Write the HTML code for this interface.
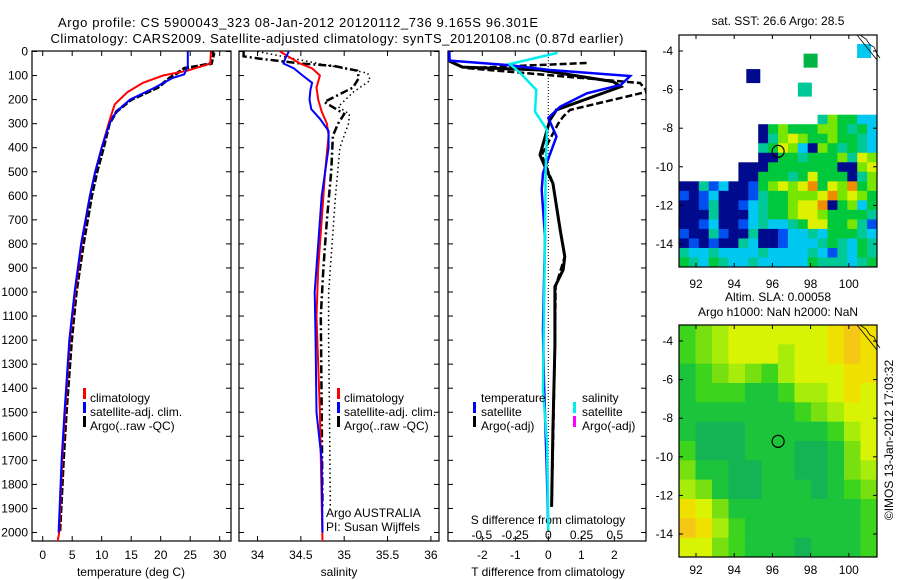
<!DOCTYPE html>
<html><head><meta charset="utf-8"><style>
body{margin:0;background:#fff}
svg{display:block;font-family:"Liberation Sans",sans-serif}
text{font-size:12px;fill:#000}
</style></head><body>
<svg id="s" width="900" height="580" viewBox="0 0 900 580">
<text x="298" y="27" text-anchor="middle" font-size="13" style="font-size:13px" textLength="480">Argo profile: CS 5900043_323 08-Jan-2012 20120112_736 9.165S 96.301E</text>
<text x="337" y="43" text-anchor="middle" style="font-size:13px" textLength="573">Climatology: CARS2009. Satellite-adjusted climatology: synTS_20120108.nc (0.87d earlier)</text>
<text transform="translate(893,440) rotate(-90)" text-anchor="middle">©IMOS 13-Jan-2012 17:03:32</text>
<g id="g"></g>
</svg>
<script>
// ---- data ----
const depthTicks=[0,100,200,300,400,500,600,700,800,900,1000,1100,1200,1300,1400,1500,1600,1700,1800,1900,2000];
const tempTicks=[0,5,10,15,20,25,30];
const salTicks=[34,34.5,35,35.5,36];
const tdiffTicks=[-2,-1,0,1,2];
const sdiffTicks=[-0.5,-0.25,0,0.25,0.5];
const sdiffTickLabels=["-0.5","-0.25","0","0.25","0.5"];
// temperature profiles [depth, temp]
const tempClim=[[0,28.5],[50,28.4],[65,26.5],[80,24.5],[100,20.4],[130,17],[170,14.3],[220,12.2],[280,11.4],[400,10],[500,8.9],[600,8],[800,6.6],[1000,5.5],[1200,4.6],[1500,3.8],[1700,3.3],[2000,2.8],[2040,2.5]];
const tempSat=[[0,24.6],[60,24.6],[95,24],[110,22],[150,19],[200,14.8],[250,12.5],[300,11.3],[400,10],[500,8.9],[600,8],[800,6.5],[1000,5.4],[1200,4.5],[1500,3.7],[1700,3.2],[2000,2.7]];
const tempArgo=[[0,28.6],[10,29],[50,28.6],[60,26.5],[70,24],[90,22.8],[110,21.5],[150,19.5],[200,15],[250,12.5],[300,11.3],[400,10.3],[500,9.2],[600,8.3],[800,6.9],[1000,5.7],[1200,4.9],[1500,4],[1700,3.5],[2000,2.9]];
// salinity profiles [depth, sal]
const salClim=[[0,34.26],[50,34.49],[70,34.63],[100,34.72],[150,34.68],[200,34.7],[250,34.74],[300,34.8],[350,34.82],[500,34.78],[700,34.74],[900,34.7],[1100,34.68],[1500,34.72],[2040,34.75]];
const salSat=[[0,34.36],[30,34.32],[50,34.3],[70,34.42],[100,34.52],[130,34.63],[160,34.61],[200,34.6],[240,34.62],[280,34.72],[330,34.82],[400,34.82],[600,34.74],[800,34.7],[1000,34.66],[1200,34.67],[1500,34.68],[1700,34.74],[2000,34.75]];
const salArgo=[[0,33.84],[20,33.84],[30,34.03],[50,34.5],[60,34.88],[80,35.15],[110,35.17],[150,35.1],[190,34.88],[210,34.77],[260,35.0],[300,34.93],[350,34.87],[500,34.85],[700,34.8],[900,34.76],[1100,34.73],[1500,34.74],[1900,34.75]];
const salArgoRaw=[[0,34.0],[50,34.7],[90,35.27],[120,35.3],[170,35.1],[230,34.93],[260,35.06],[300,35.05],[400,34.95],[600,34.9],[800,34.86],[1000,34.82],[1200,34.82],[1500,34.83],[1900,34.84]];
// difference profiles [depth, diff]
const tdiffSat=[[0,-3],[38,-2.99],[56,-1.25],[77,0.05],[102,2.48],[139,2.2],[174,1.17],[229,0.36],[276,0],[354,0.25],[506,-0.16],[576,-0.2],[770,-0.1],[1158,-0.16],[1380,-0.13],[1711,-0.05],[1990,0]];
const sdiffSat=[[6,0.07],[52,-0.29],[90,-0.21],[160,-0.09],[250,-0.1],[326,-0.01],[506,-0.02],[770,-0.025],[1407,-0.04],[1628,-0.01],[1990,0]];
const tdiffArgo=[[40,-3],[65,-2.6],[77,-0.25],[125,1.96],[146,2.2],[243,0.25],[285,0.05],[430,-0.25],[479,-0.1],[548,0.14],[742,0.36],[853,0.5],[908,0.45],[978,0.2],[1227,0.2],[1574,0.14],[1893,0.1]];
const tdiffArgoRaw=[[48,1.16],[69,-2.46],[131,2.78],[167,3.0],[243,0.66],[271,0.45],[300,0.3],[430,-0.2],[548,0.14],[742,0.36],[853,0.5],[978,0.22],[1227,0.2],[1574,0.15],[1893,0.1]];
// SST map grid (lat -7.3..-15.2, lon 91.2..101.5), 20 cols
const sstRows=["..............tlggcc","........nglgggllgtgc","........ntlylgglggtc","........tgylcnlgtgtc","........nnggtgggltyl","......nnngggggggnnly","......nngggtgygggntl","nntbcnnbglylyogylogl","bnbcnnnbtgglllyolylg","nnbtnnbctgglyyonglcg","nnntnnnctgglyylggggt","nnbcnnbctcctgyyggltb","bnntbnntnnbcctcgggtc","nbnbnntcnnbccctgtcgt","tcctcccctcccctcbtcgt","gtcgtcctcccccgtttctg"];
const sstIsolated=[[95,-5.3,"n"],[98,-4.5,"G"],[97.7,-6,"t"],[100.8,-4,"c"]];
// SLA map grid (lat -3.3..-15.2), 12 cols
const slaRows=["345666666787","345666566787","234543566677","233322355676","222222234566","211122222356","311122211246","422112211245","542112221234","764222222223","875322222223","664322212223"];
// ---- drawing ----
const NS="http://www.w3.org/2000/svg", G=document.getElementById('g');
function mk(t,a,p){const e=document.createElementNS(NS,t);for(const k in a)e.setAttribute(k,a[k]);(p||G).appendChild(e);return e;}
const Y0=51.5, YS=0.2405; function yD(d){return Y0+d*YS;}
const PT=51,PB=541;
const xT=v=>42.7+v*5.9, xS=v=>257.5+(v-34)*86.7, xTD=v=>548.3+v*33, xSD=v=>548.3+v*133;
function frame(x0,x1,name){
  const r=mk('rect',{x:x0,y:PT,width:x1-x0,height:PB-PT,fill:'none',stroke:'#000','stroke-width':1.2});
  
  depthTicks.forEach(d=>{const y=yD(d);mk('line',{x1:x0,x2:x0+5,y1:y,y2:y,stroke:'#000'});mk('line',{x1:x1,x2:x1-5,y1:y,y2:y,stroke:'#000'});});
}
function xticks(ticks,f,labels,ly,top){ticks.forEach((t,i)=>{const x=f(t);mk('line',{x1:x,x2:x,y1:PB,y2:PB-5,stroke:'#000'});if(top)mk('line',{x1:x,x2:x,y1:PT,y2:PT+5,stroke:'#000'});
  const tx=mk('text',{x:x,y:ly,'text-anchor':'middle'});tx.textContent=labels?labels[i]:String(t);});}
function line(data,fx,color,w,dash,name,clip){
  const pts=data.map(p=>fx(p[1]).toFixed(1)+','+yD(p[0]).toFixed(1)).join(' ');
  const a={points:pts,fill:'none',stroke:color,'stroke-width':w};if(dash)a['stroke-dasharray']=dash;if(clip)a['clip-path']=clip;
  const e=mk('polyline',a);}
function txt(x,y,s,name,anchor){const t=mk('text',{x:x,y:y});if(anchor)t.setAttribute('text-anchor',anchor);t.textContent=s;return t;}
function legMark(x,y,c,name){const r=mk('rect',{x:x,y:y-10,width:3,height:11,fill:c});}
const defs=mk('defs',{});
[[1,32,231],[2,239,439],[3,448,646]].forEach(([i,a,b])=>{const c=mk('clipPath',{id:'c'+i},defs);mk('rect',{x:a,y:PT,width:b-a,height:PB-PT},c);});
// depth labels
depthTicks.forEach(d=>{txt(28,yD(d)+4,String(d),'depth-tick-label','end');});
// panel 1
frame(32,231,'temperature-panel');
xticks(tempTicks,xT,null,559,true);
txt(131,576,'temperature (deg C)','x-axis-title-temperature','middle');
line(tempArgo,xT,'#000',3,'7,2','temp-argo-line','url(#c1)');
line(tempClim,xT,'#f00',2,null,'temp-climatology-line','url(#c1)');
line(tempSat,xT,'#00f',2,null,'temp-satellite-line','url(#c1)');
legMark(83,398,'#f00','legend-climatology');txt(90,402,'climatology','legend-label');
legMark(83,412,'#00f','legend-satellite');txt(90,416,'satellite-adj. clim.','legend-label');
legMark(83,426,'#000','legend-argo');txt(90,430,'Argo(..raw -QC)','legend-label');
// panel 2
frame(239,439,'salinity-panel');
xticks(salTicks,xS,null,559,true);
txt(339,576,'salinity','x-axis-title-salinity','middle');
line(salArgoRaw,xS,'#000',1.5,'1.5,3','sal-argo-raw-line','url(#c2)');
line(salArgo,xS,'#000',2.5,'8,3,2,3','sal-argo-line','url(#c2)');
line(salClim,xS,'#f00',2,null,'sal-climatology-line','url(#c2)');
line(salSat,xS,'#00f',2,null,'sal-satellite-line','url(#c2)');
legMark(337,398,'#f00','legend-climatology');txt(344,402,'climatology','legend-label');
legMark(337,412,'#00f','legend-satellite');txt(344,416,'satellite-adj. clim.','legend-label');
legMark(337,426,'#000','legend-argo');txt(344,430,'Argo(..raw -QC)','legend-label');
txt(326,517,'Argo AUSTRALIA','argo-australia-label');txt(326,531,'PI: Susan Wijffels','pi-label');
// panel 3
frame(448,646,'difference-panel');
xticks(tdiffTicks,xTD,null,559,true);
txt(548,576,'T difference from climatology','x-axis-title-tdiff','middle');
sdiffTicks.forEach((t,i)=>txt(xSD(t),539,sdiffTickLabels[i],'s-tick-label','middle'));
txt(548,524,'S difference from climatology','s-axis-title','middle');
mk('line',{x1:548.3,x2:548.3,y1:PT,y2:PB,stroke:'#000','stroke-dasharray':'1,2'});
line(tdiffArgoRaw,xTD,'#000',2.5,'7,3','tdiff-argo-raw-line','url(#c3)');
line(tdiffArgo,xTD,'#000',3,null,'tdiff-argo-line','url(#c3)');
line(tdiffSat,xTD,'#00f',2.5,null,'tdiff-satellite-line','url(#c3)');
line(sdiffSat,xSD,'#0ee',2.5,null,'sdiff-satellite-line','url(#c3)');
txt(481,402,'temperature','legend-header');txt(582,402,'salinity','legend-header');
legMark(473,412,'#00f','legend-t-satellite');txt(481,416,'satellite','legend-label');
legMark(473,426,'#000','legend-t-argo');txt(481,430,'Argo(-adj)','legend-label');
legMark(573,412,'#0ee','legend-s-satellite');txt(582,416,'satellite','legend-label');
legMark(573,426,'#f0f','legend-s-argo');txt(582,430,'Argo(-adj)','legend-label');
// maps
const MX0=679,MX1=877;
const lonX=l=>696+(l-92)*19.1;
const SSTC={n:'#000a8c',b:'#0050f0',c:'#00c8f0',t:'#00c896',g:'#00c83c',G:'#00b446',l:'#78e600',y:'#dcf000',o:'#f08c00'};
const SLAC={1:'#14b454',2:'#1cc43c',3:'#3cd41c',4:'#78e010',5:'#a8ec0c',6:'#d8f404',7:'#f0e000',8:'#f4c814'};
function mapFrame(y0,y1,latY,name,lonLabY){
  const cw=(MX1-MX0);
  const r=mk('rect',{x:MX0,y:y0,width:cw,height:y1-y0,fill:'none',stroke:'#000','stroke-width':1.2});
  [-4,-6,-8,-10,-12,-14].forEach(l=>{const y=latY(l);mk('line',{x1:MX0,x2:MX0+4,y1:y,y2:y,stroke:'#000'});mk('line',{x1:MX1,x2:MX1-4,y1:y,y2:y,stroke:'#000'});txt(673,y+4,String(l),'lat-tick-label','end');});
  [92,94,96,98,100].forEach(l=>{const x=lonX(l);mk('line',{x1:x,x2:x,y1:y0,y2:y0+4,stroke:'#000'});mk('line',{x1:x,x2:x,y1:y1,y2:y1-4,stroke:'#000'});txt(x,lonLabY,String(l),'lon-tick-label','middle');});
  // coastline
  mk('path',{d:`M${MX1-20},${y0} L${MX1},${y0+25} M${MX1-17},${y0} l6,4 l4,6 l4,2 l3,7 l3,4`,stroke:'#000',fill:'none','stroke-width':0.8});
  mk('circle',{cx:lonX(96.3),cy:latY(-9.2),r:6,fill:'none',stroke:'#000','stroke-width':1.2});
}
// map 1
const lat1=l=>51+(-4-l)*19.3;
{const rh=(267-lat1(-7.3))/sstRows.length, cw=(MX1-MX0)/20, top=lat1(-7.3);
 sstRows.forEach((row,i)=>[...row].forEach((ch,j)=>{if(ch==='.')return;const r=mk('rect',{x:MX0+j*cw,y:top+i*rh,width:cw+0.3,height:rh+0.3,fill:SSTC[ch]});}));
 sstIsolated.forEach(p=>{const r=mk('rect',{x:lonX(p[0])-7,y:lat1(p[1])-7,width:14,height:14,fill:SSTC[p[2]]});});
}
mapFrame(35,267,lat1,'sst-map',288);
txt(778,25,'sat. SST: 26.6 Argo: 28.5','sst-map-title','middle');
// map 2
const lat2=l=>341+(-4-l)*19.3;
{const top=325,rh=(557-325)/slaRows.length,cw=(MX1-MX0)/12;
 slaRows.forEach((row,i)=>[...row].forEach((ch,j)=>{const r=mk('rect',{x:MX0+j*cw,y:top+i*rh,width:cw+0.3,height:rh+0.3,fill:SLAC[ch]});}));
}
mapFrame(325,557,lat2,'sla-map',574);
txt(778,301,'Altim. SLA: 0.00058','sla-map-title','middle');
txt(778,316,'Argo h1000: NaN h2000: NaN','sla-map-subtitle','middle');
</script>
</body></html>
